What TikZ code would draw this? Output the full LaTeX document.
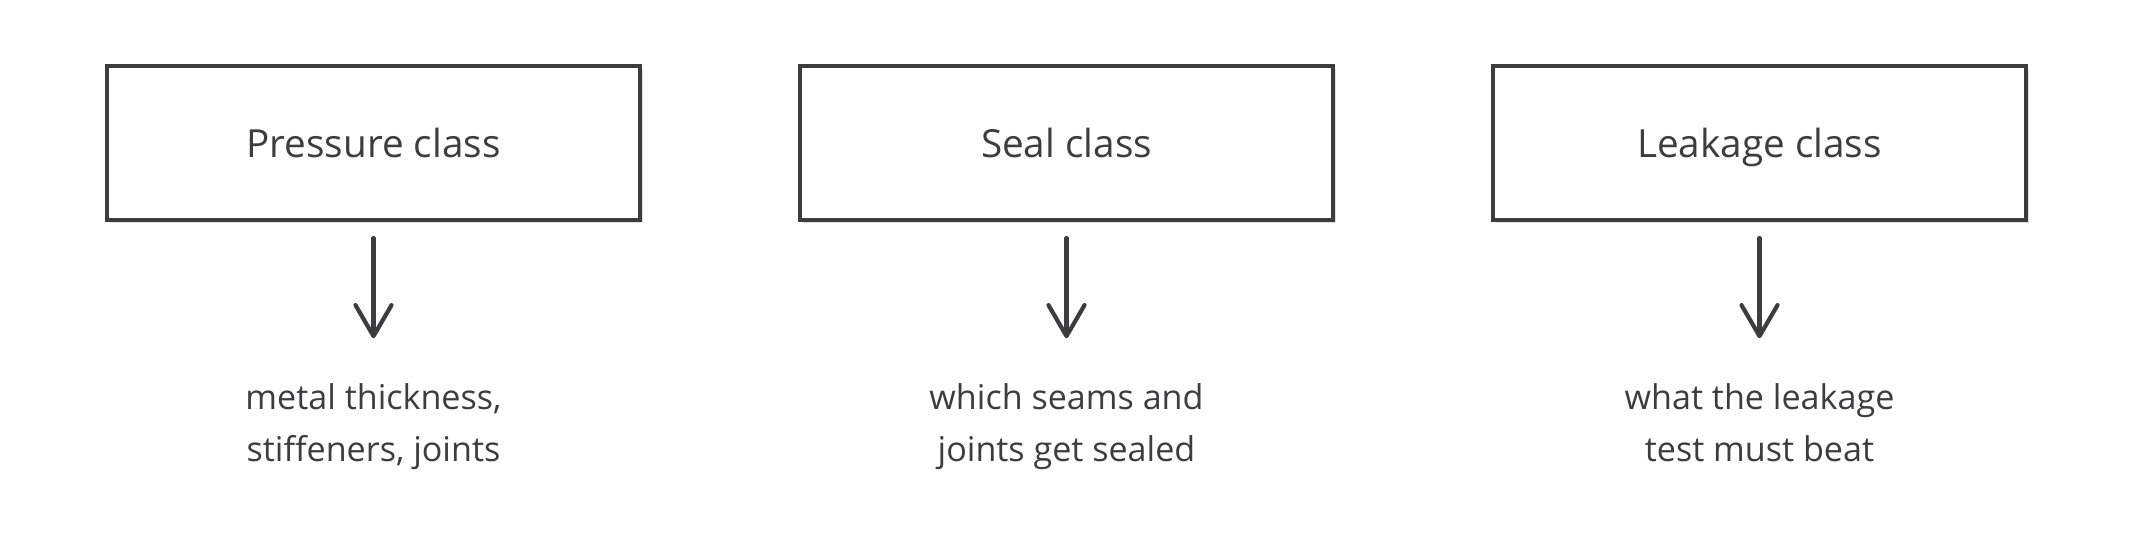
\documentclass[tikz,border=0pt]{standalone}
\usepackage{fontspec}
\setmainfont{Open Sans}
\usetikzlibrary{arrows.meta,shadows}
\definecolor{ink}{HTML}{3D3D40}
\begin{document}
\begin{tikzpicture}[x=0.01cm,y=-0.01cm]
\tikzstyle{every node}+=[inner sep=0pt, text=ink]
\tikzstyle{classbox}=[draw=ink, line width=0.04cm, fill=white, minimum width=5.33cm, minimum height=1.54cm, text height=0.85em, text depth=0pt, font=\fontsize{11}{13}\selectfont, drop shadow={shadow xshift=0.03cm, shadow yshift=-0.03cm, fill=black!12, opacity=1}]
\tikzstyle{note}=[align=center, font=\fontsize{9.7}{14.8}\selectfont]
\tikzstyle{flow}=[draw=ink, line width=0.042cm, line cap=round, -{Straight Barb[length=0.31cm,width=0.36cm,round]}, shorten <=0.16cm, shorten >=0.34cm]
\useasboundingbox (0,0) rectangle (2133,533);
\node [classbox] (pressure) at (373.5,143) {Pressure class};
\node [classbox] (seal) at (1066.5,143) {Seal class};
\node [classbox] (leakage) at (1759.5,143) {Leakage class};
\node [note] (pressureNote) at (373.5,425) {\strut metal thickness,\\\strut stiffeners, joints};
\node [note] (sealNote) at (1066.5,425) {\strut which seams and\\\strut joints get sealed};
\node [note] (leakageNote) at (1759.5,425) {\strut what the leakage\\\strut test must beat};
\draw [flow] (pressure) -- (pressureNote);
\draw [flow] (seal) -- (sealNote);
\draw [flow] (leakage) -- (leakageNote);
\end{tikzpicture}
\end{document}
